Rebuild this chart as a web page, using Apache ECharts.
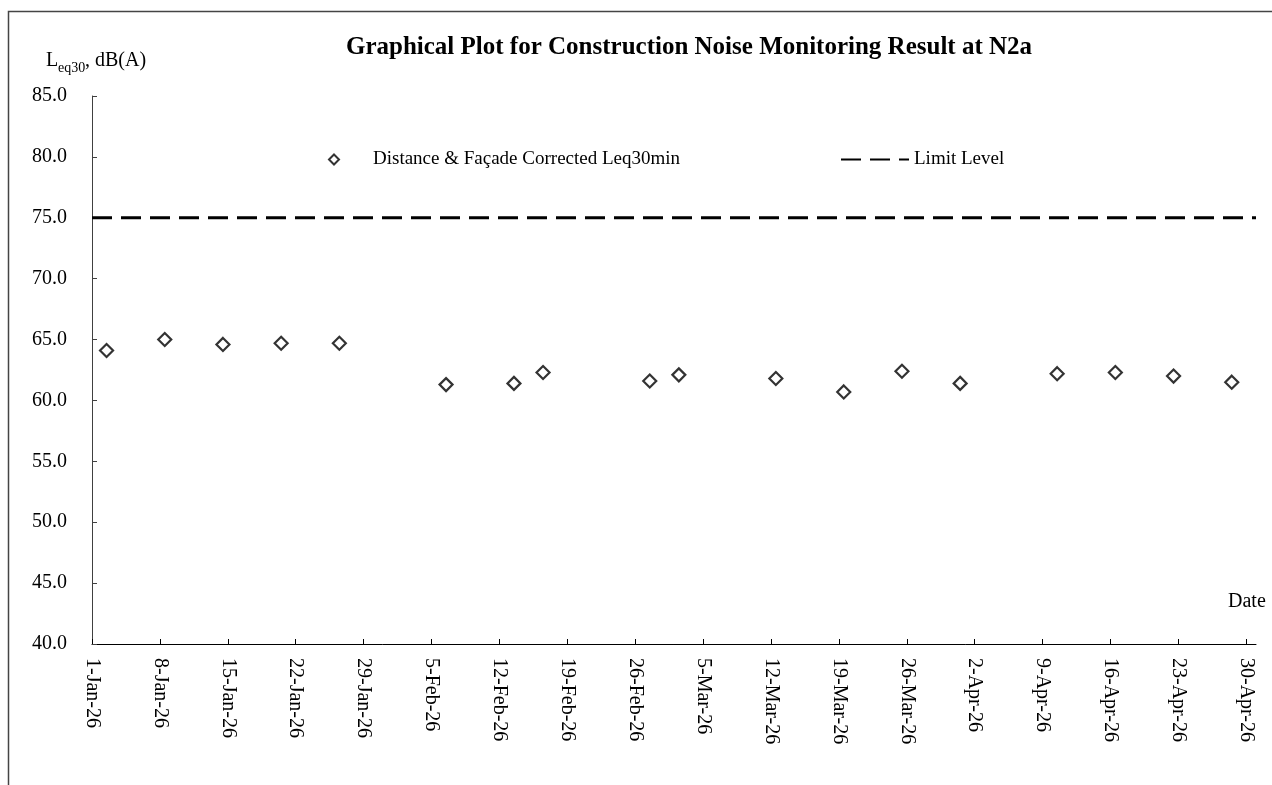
<!DOCTYPE html>
<html>
<head>
<meta charset="utf-8">
<script src="https://cdn.jsdelivr.net/npm/echarts@6/dist/echarts.min.js"></script>
<style>
html,body{margin:0;padding:0;background:#fff;}
#c{width:1272px;height:785px;}
</style>
</head>
<body>
<div id="c"></div>
<script>
// ---- data ----
const measureDates = ['2026-01-02 12:00','2026-01-08 12:00','2026-01-14 12:00','2026-01-20 12:00','2026-01-26 12:00',
  '2026-02-06 12:00','2026-02-13 12:00','2026-02-16 12:00','2026-02-27 12:00','2026-03-02 12:00',
  '2026-03-12 12:00','2026-03-19 12:00','2026-03-25 12:00','2026-03-31 12:00','2026-04-10 12:00',
  '2026-04-16 12:00','2026-04-22 12:00','2026-04-28 12:00'];
const correctedLeq = [64.1, 65.0, 64.6, 64.7, 64.7, 61.3, 61.4, 62.3, 61.6, 62.1, 61.8, 60.7, 62.4, 61.4, 62.2, 62.3, 62.0, 61.5];
const limitLevel = 75;
const axisStartDate = '2026-01-01';
const axisEndDate = '2026-05-01';
const xTickDates = ['2026-01-01','2026-01-08','2026-01-15','2026-01-22','2026-01-29','2026-02-05','2026-02-12',
  '2026-02-19','2026-02-26','2026-03-05','2026-03-12','2026-03-19','2026-03-26','2026-04-02','2026-04-09',
  '2026-04-16','2026-04-23','2026-04-30'];
const yMin = 40, yMax = 85, yStep = 5;

// ---- helpers ----
const MONTHS = ['Jan','Feb','Mar','Apr','May','Jun','Jul','Aug','Sep','Oct','Nov','Dec'];
function toUTC(s) {
  const [d, t] = s.split(' ');
  const [Y, M, D] = d.split('-').map(Number);
  let h = 0, m = 0;
  if (t) { [h, m] = t.split(':').map(Number); }
  return Date.UTC(Y, M - 1, D, h, m);
}
const base = toUTC(axisStartDate);
function dayOffset(s) { return (toUTC(s) - base) / 86400000; }
function fmtDay(v) {
  const dt = new Date(base + Math.round(v) * 86400000);
  return dt.getUTCDate() + '-' + MONTHS[dt.getUTCMonth()] + '-' + String(dt.getUTCFullYear()).slice(2);
}
const xMaxDay = dayOffset(axisEndDate);
const tickDays = xTickDates.map(dayOffset);
const scatterData = measureDates.map((d, i) => [dayOffset(d), correctedLeq[i]]);
const limitData = [[0, limitLevel], [xMaxDay, limitLevel]];

const FONT = '"Liberation Serif","Times New Roman",serif';
const S1 = 'Distance & Façade Corrected Leq30min';
const S2 = 'Limit Level';

const chart = echarts.init(document.getElementById('c'));
chart.setOption({
  animation: false,
  backgroundColor: '#fff',
  title: {
    text: 'Graphical Plot for Construction Noise Monitoring Result at N2a',
    left: 684, top: 30, textAlign: 'center',
    textStyle: { fontFamily: FONT, fontSize: 25, fontWeight: 'bold', color: '#000' }
  },
  legend: [
    { data: [{ name: S1, icon: 'diamond' }], left: 323, top: 145, itemWidth: 10, itemHeight: 10, selectedMode: false,
      itemStyle: { color: '#fff', borderColor: '#000', borderWidth: 2 },
      textStyle: { fontFamily: FONT, fontSize: 19, color: '#000', padding: [0, 0, 0, 29] } },
    { data: [S2], left: 835, top: 145, itemWidth: 68, itemHeight: 9, selectedMode: false,
      itemStyle: { opacity: 0 },
      textStyle: { fontFamily: FONT, fontSize: 19, color: '#000', padding: [0, 0, 0, 0] } }
  ],
  grid: { left: 92, top: 96, right: 16, bottom: 141, containLabel: false },
  xAxis: {
    type: 'value', min: 0, max: xMaxDay,
    splitLine: { show: false },
    axisLine: { lineStyle: { color: '#000', width: 1 } },
    axisTick: { inside: true, length: 5, lineStyle: { color: '#000' }, customValues: tickDays },
    axisLabel: { customValues: tickDays, rotate: -90, margin: 14, formatter: fmtDay,
      fontFamily: FONT, fontSize: 20, color: '#000' }
  },
  yAxis: {
    type: 'value', min: yMin, max: yMax, interval: yStep,
    splitLine: { show: false },
    axisLine: { show: true, lineStyle: { color: '#404040', width: 1 } },
    axisTick: { show: true, inside: true, length: 5, lineStyle: { color: '#404040' } },
    axisLabel: { margin: 25, formatter: v => v.toFixed(1), fontFamily: FONT, fontSize: 20, color: '#000' }
  },
  series: [
    { name: S1, type: 'scatter', data: scatterData, symbol: 'diamond', symbolSize: 13,
      itemStyle: { color: '#fff', borderColor: '#000', borderWidth: 2.2 } },
    { name: S2, type: 'line', data: limitData, symbol: 'none', silent: true,
      lineStyle: { color: '#000', width: 3, type: [20, 9] } }
  ],
  graphic: [
    { type: 'rect', left: 6, top: 9, silent: true,
      shape: { x: 0, y: 0, width: 1300, height: 800 },
      style: { fill: 'none', stroke: '#444', lineWidth: 1.5 } },
    { type: 'text', left: 46, top: 51, style: { text: 'L', font: '20px ' + FONT, fill: '#000' } },
    { type: 'text', left: 58, top: 61, style: { text: 'eq30', font: '14px ' + FONT, fill: '#000' } },
    { type: 'text', left: 85, top: 51, style: { text: ', dB(A)', font: '20px ' + FONT, fill: '#000' } },
    { type: 'text', left: 1228, top: 592, style: { text: 'Date', font: '20px ' + FONT, fill: '#000' } }
  ]
});
</script>
</body>
</html>
